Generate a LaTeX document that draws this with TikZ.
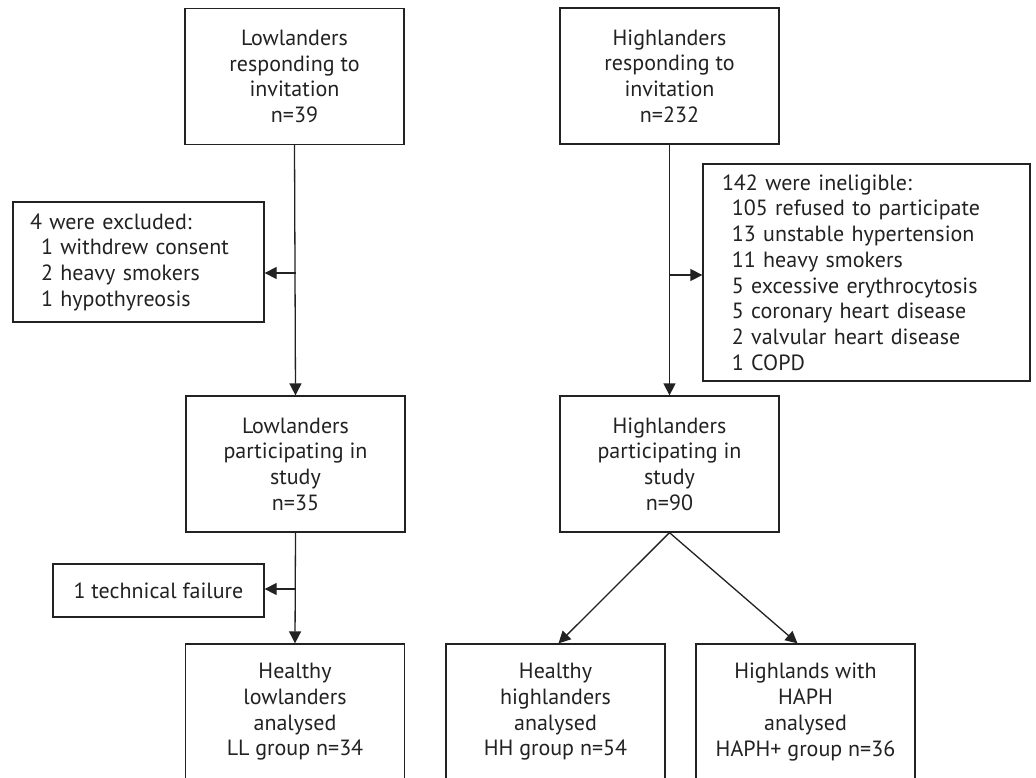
\documentclass[tikz,border=0pt]{standalone}
\usepackage{fontspec}
\setmainfont{PT Sans}
\usetikzlibrary{arrows.meta}
\definecolor{ink}{HTML}{222222}
\begin{document}
\begin{tikzpicture}[x=1pt,y=-1pt,
  box/.style={draw=ink, line width=1.3pt, text=ink, align=center,
    minimum width=219pt, minimum height=136pt, inner sep=4pt,
    font=\fontsize{22}{25.7}\selectfont},
  lbox/.style={draw=ink, line width=1.3pt, text=ink, align=left,
    inner xsep=17pt, inner ysep=4pt,
    font=\fontsize{22}{25.7}\selectfont},
  arr/.style={draw=ink, line width=1.3pt, -{Triangle[length=12pt,width=12pt]}},
  ln/.style={draw=ink, line width=1.3pt}]
\useasboundingbox (0,0) rectangle (1036,777);
\fill[white] (0,0) rectangle (1036,777);

\node[box] (LR) at (294.5,76.5) {Lowlanders\\responding to\\invitation\\n=39};
\node[box] (HR) at (669.5,76) {Highlanders\\responding to\\invitation\\n=232};
\node[lbox, text width=217pt, minimum height=120pt] (EX) at (138.5,262)
  {4 were excluded:\\\hspace*{0.5em}1 withdrew consent\\\hspace*{0.5em}2 heavy smokers\\\hspace*{0.5em}1 hypothyreosis};
\node[lbox, inner xsep=19pt, text width=289pt, minimum height=217pt] (IN) at (866.5,272.5)
  {142 were ineligible:\\\hspace*{0.45em}105 refused to participate\\\hspace*{0.45em}13 unstable hypertension\\\hspace*{0.45em}11 heavy smokers\\\hspace*{0.45em}5 excessive erythrocytosis\\\hspace*{0.45em}5 coronary heart disease\\\hspace*{0.45em}2 valvular heart disease\\\hspace*{0.45em}1 COPD};
\node[box] (LP) at (295.5,464) {Lowlanders\\participating in\\study\\n=35};
\node[box] (HP) at (669.5,464) {Highlanders\\participating in\\study\\n=90};
\node[box, minimum width=211pt, minimum height=53pt] (TF) at (158.5,590.5) {1 technical failure};
\node[box] (LL) at (295,712) {Healthy\\lowlanders\\analysed\\LL group n=34};
\node[box] (HH) at (555.5,712) {Healthy\\highlanders\\analysed\\HH group n=54};
\node[box] (HA) at (805.5,712) {Highlands with\\HAPH\\analysed\\HAPH+ group n=36};

\coordinate (J1) at (295.5,273);
\coordinate (J2) at (669.5,275);
\coordinate (J3) at (295.5,589);

\draw[arr] (LR.south) -- (LP.north);
\draw[arr] (J1) -- (J1 -| EX.east);
\draw[arr] (HR.south) -- (HP.north);
\draw[arr] (J2) -- (J2 -| IN.west);
\draw[arr] (LP.south) -- (LL.north);
\draw[arr] (J3) -- (J3 -| TF.east);
\draw[arr] (HP.south) -- ([xshift=3pt]HH.north);
\draw[arr] (HP.south) -- ([xshift=-8pt]HA.north);
\end{tikzpicture}
\end{document}
